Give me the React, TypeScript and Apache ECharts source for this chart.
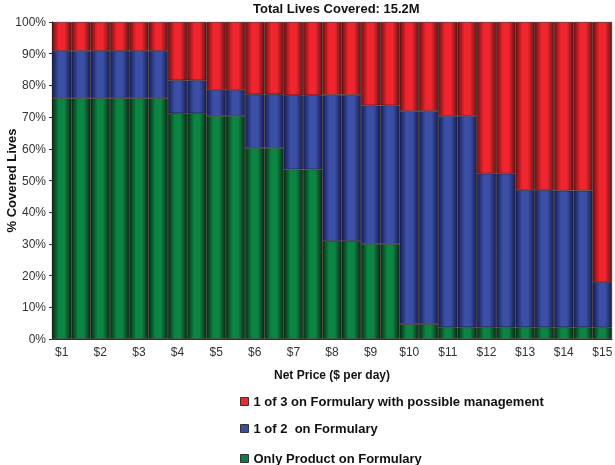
import React, { useEffect, useRef } from "react";
import * as echarts from "echarts";

const categories = ["$1","$1.5","$2","$2.5","$3","$3.5","$4","$4.5","$5","$5.5","$6","$6.5","$7","$7.5","$8","$8.5","$9","$9.5","$10","$10.5","$11","$11.5","$12","$12.5","$13","$13.5","$14","$14.5","$15"];
const onlyProduct = [76,76,76,76,76,76,71.2,71.2,70.4,70.4,60.3,60.3,53.5,53.5,30.9,30.9,30,30,4.7,4.7,3.7,3.7,3.7,3.7,3.7,3.7,3.7,3.7,3.7];
const oneOfTwo = [14.9,14.9,14.9,14.9,14.9,14.9,10.4,10.4,8.2,8.2,16.9,16.9,23.4,23.4,46.1,46.1,43.7,43.7,67.2,67.2,66.7,66.7,48.5,48.5,43.3,43.3,43.1,43.1,14.3];
const oneOfThree = [9.1,9.1,9.1,9.1,9.1,9.1,18.4,18.4,21.4,21.4,22.8,22.8,23.1,23.1,23,23,26.3,26.3,28.1,28.1,29.6,29.6,47.8,47.8,53,53,53.2,53.2,82];
const seriesNames = ["1 of 3 on Formulary with possible management", "1 of 2  on Formulary", "Only Product on Formulary"];

const FONT = "Liberation Sans, Arial, Helvetica, sans-serif";

function grad(edge: string, mid: string) {
  return new echarts.graphic.LinearGradient(0, 0, 1, 0, [
    { offset: 0, color: edge },
    { offset: 0.35, color: mid },
    { offset: 0.65, color: mid },
    { offset: 1, color: edge },
  ]);
}

export default function App() {
  const ref = useRef<HTMLDivElement>(null);
  useEffect(() => {
    if (!ref.current) return;
    const chart = echarts.init(ref.current, null, { renderer: "svg" });
    const flat = ["#ee2a2f", "#3a4da2", "#0b7e40"];
    const legendTops = [395, 422, 452];
    const mkSeries = (name: string, data: number[], edge: string, mid: string) => ({
      name,
      type: "bar",
      stack: "all",
      data,
      barCategoryGap: "0%",
      itemStyle: { color: grad(edge, mid), borderColor: "#2b1a1a", borderWidth: 0.6 },
    });
    chart.setOption({
      animation: false,
      title: {
        text: "Total Lives Covered: 15.2M",
        left: 253,
        top: 2,
        padding: 0,
        textStyle: { fontFamily: FONT, fontSize: 13, fontWeight: "bold", color: "#111" },
      },
      legend: seriesNames.map((n, i) => ({
        data: [{ name: n, icon: "rect", itemStyle: { color: flat[i], borderColor: "#333", borderWidth: 1 } }],
        left: 240,
        top: legendTops[i],
        padding: 0,
        itemWidth: 8,
        itemHeight: 8,
        selectedMode: false,
        textStyle: { fontFamily: FONT, fontSize: 13, fontWeight: "bold", color: "#111" },
      })),
      grid: { left: 52, right: 3, top: 22, bottom: 126, containLabel: false, outerBoundsMode: "none" },
      xAxis: {
        type: "category",
        data: categories,
        boundaryGap: true,
        name: "Net Price ($ per day)",
        nameLocation: "middle",
        nameGap: 30,
        nameTextStyle: { fontFamily: FONT, fontSize: 12, fontWeight: "bold", color: "#111" },
        axisLine: { lineStyle: { color: "#333", width: 1 } },
        axisTick: { interval: 0, length: 4, lineStyle: { color: "#333" } },
        axisLabel: { interval: 1, fontFamily: FONT, fontSize: 12, color: "#333", margin: 7 },
      },
      yAxis: {
        type: "value",
        min: 0,
        max: 100,
        interval: 10,
        name: "% Covered Lives",
        nameLocation: "middle",
        nameGap: 34,
        nameMoveOverlap: false,
        nameTextStyle: { fontFamily: FONT, fontSize: 13, fontWeight: "bold", color: "#111" },
        axisLine: { show: true, lineStyle: { color: "#333", width: 1 } },
        axisTick: { show: true, length: 3, lineStyle: { color: "#333" } },
        splitLine: { show: false },
        axisLabel: { formatter: "{value}%", fontFamily: FONT, fontSize: 12, color: "#333", margin: 6 },
      },
      series: [
        mkSeries(seriesNames[2], onlyProduct, "#0a2c16", "#0b8542"),
        mkSeries(seriesNames[1], oneOfTwo, "#151f55", "#3b4fa6"),
        mkSeries(seriesNames[0], oneOfThree, "#6a1414", "#f2242d"),
      ],
    });
    return () => chart.dispose();
  }, []);
  return <div ref={ref} style={{ position: "fixed", left: 0, top: 0, width: 615, height: 465 }} />;
}
